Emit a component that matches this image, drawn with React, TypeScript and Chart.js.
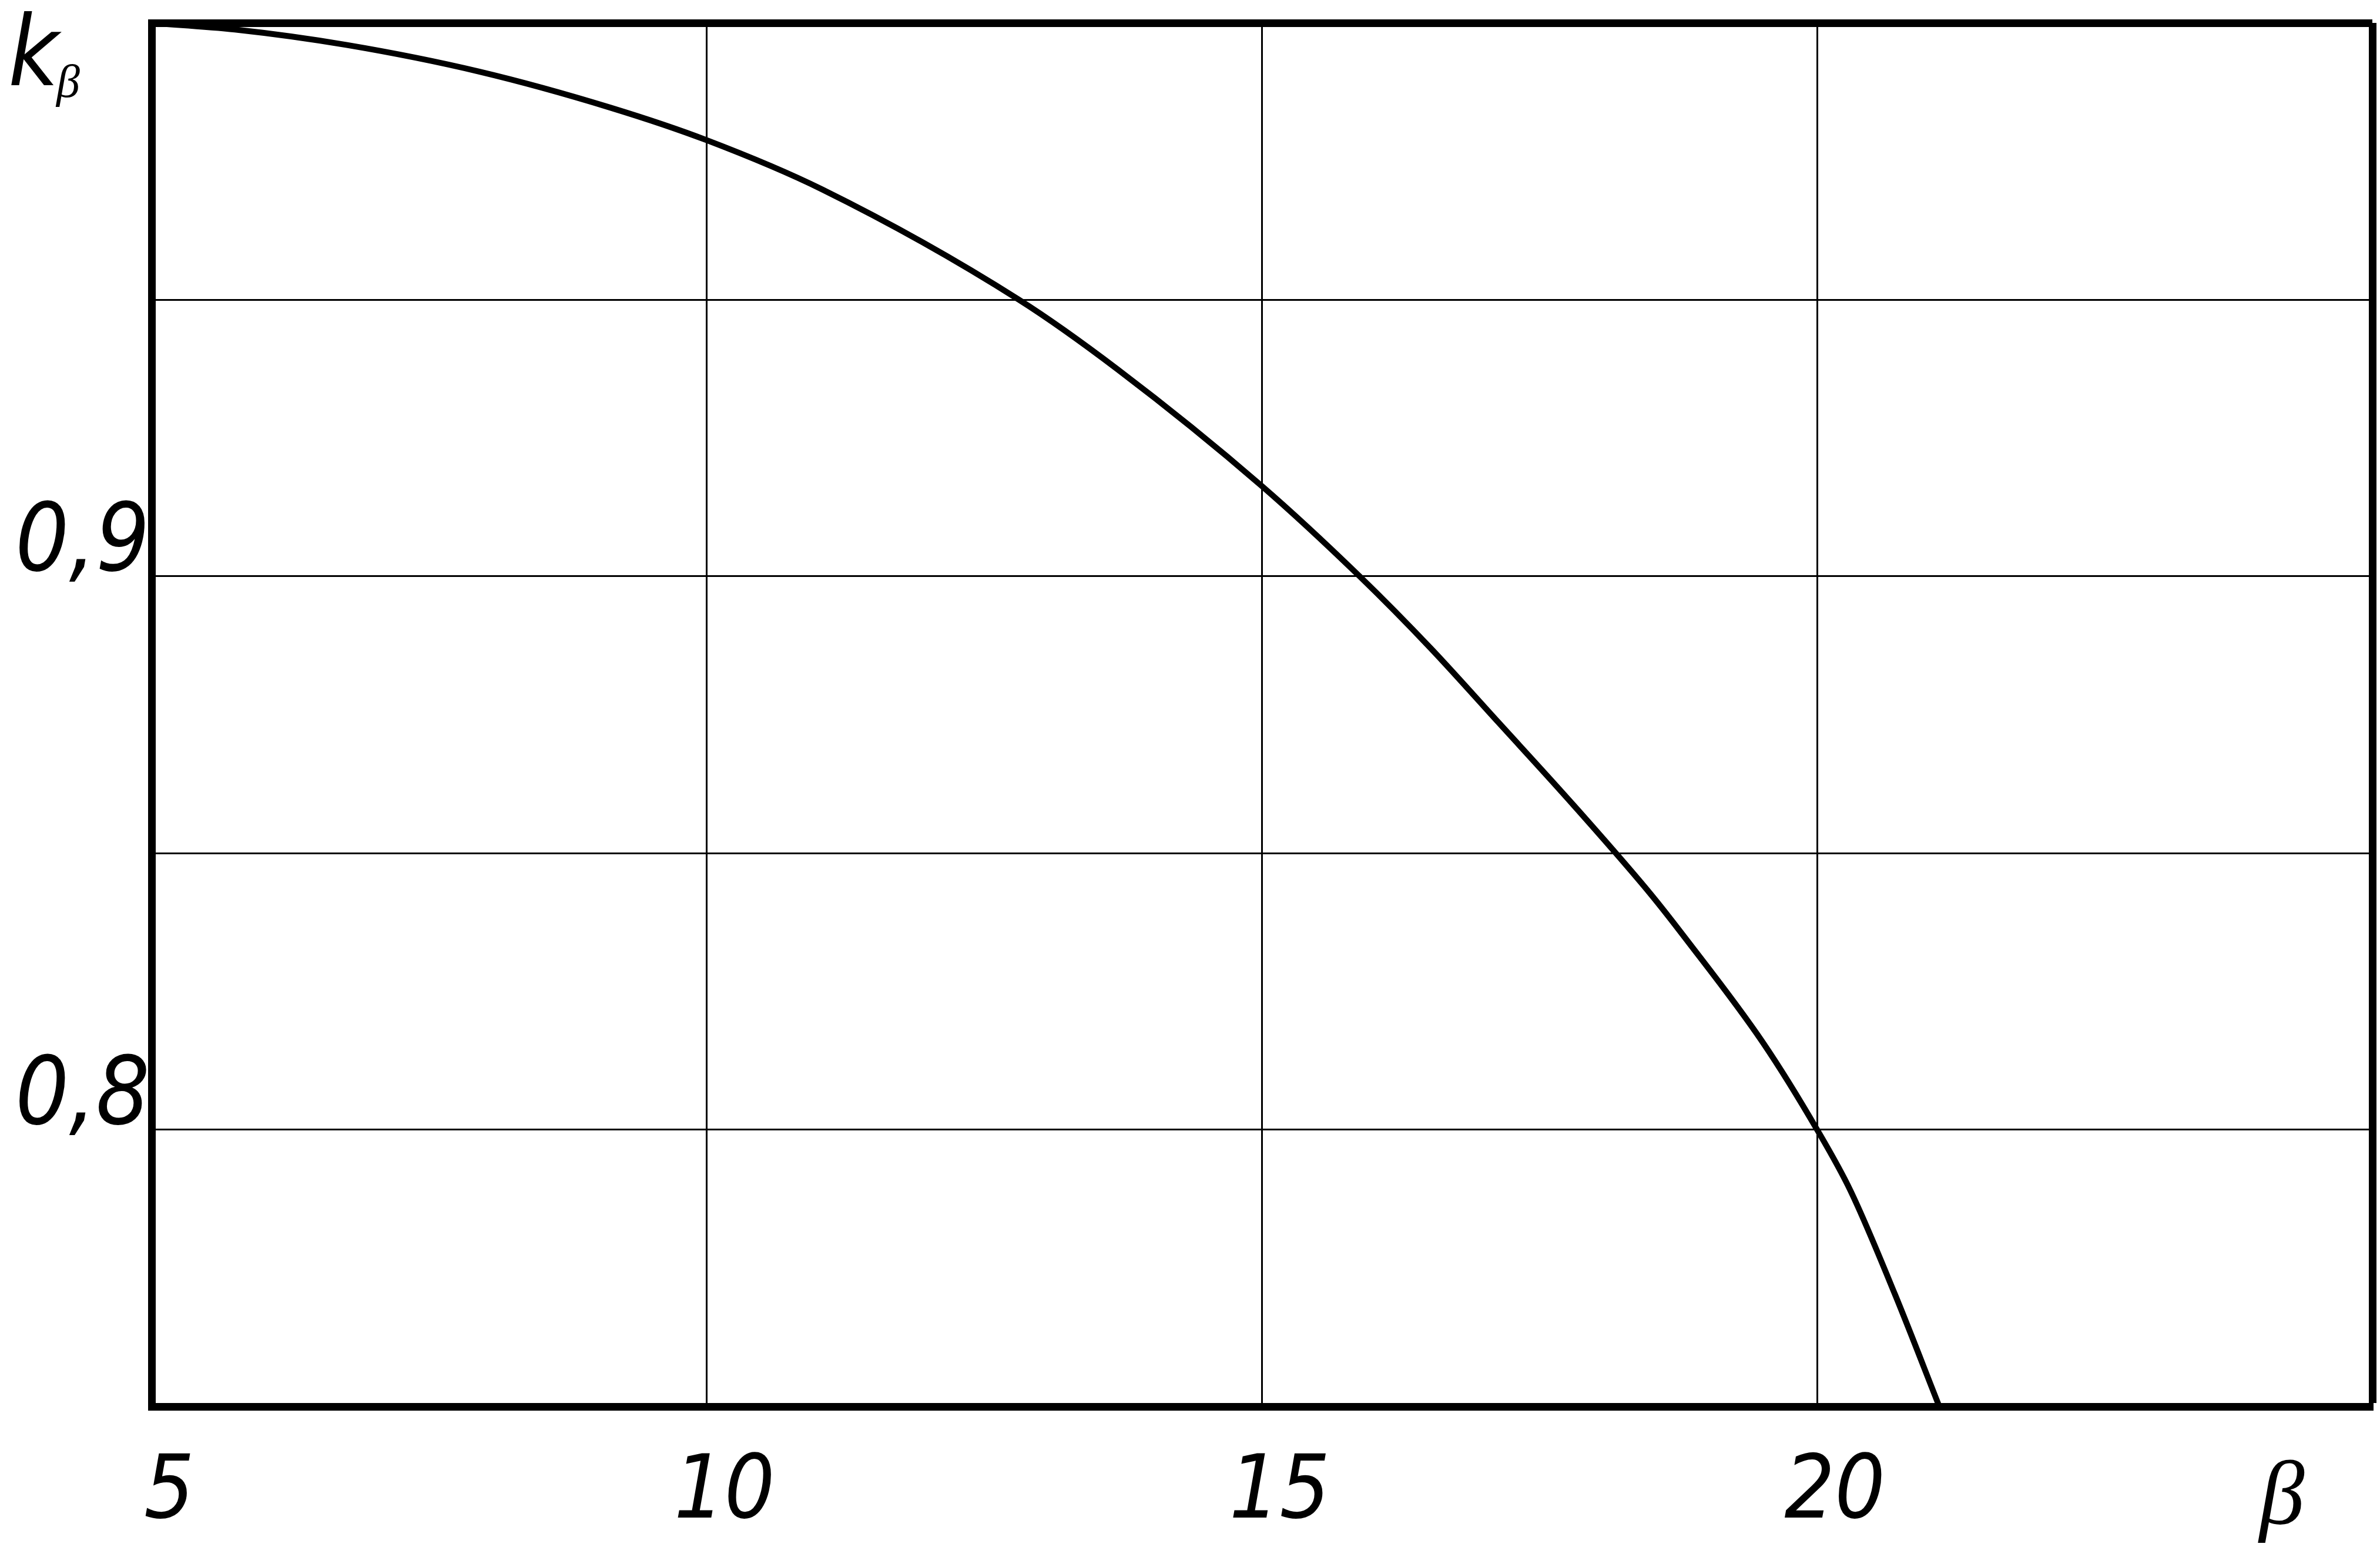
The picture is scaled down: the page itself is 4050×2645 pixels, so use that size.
import React, { useEffect, useRef } from "react";
import { Chart, registerables } from "chart.js";

Chart.register(...registerables);

// β values (x) and k_β values (y)
const betaValues = [5, 5.75, 6.76, 7.95, 9.13, 10, 11.04, 12.81, 13.7, 15, 15.88, 16.52, 17.13, 17.8, 18.5, 18.81, 19.51, 20, 20.3, 20.7, 21.1];
const kValues = [1.0, 0.9988, 0.996, 0.9912, 0.9847, 0.9788, 0.9699, 0.95, 0.9374, 0.9163, 0.9, 0.887, 0.8736, 0.8588, 0.8426, 0.8347, 0.8158, 0.8, 0.789, 0.7703, 0.75];

// axis ticks
const xTickValues = [5, 10, 15, 20];
const xTickLabels = ["5", "10", "15", "20"];
const yTickValues = [0.8, 0.9];
const yTickLabels = ["0,8", "0,9"];

const X_MIN = 5, X_MAX = 25, X_STEP = 5;
const Y_MIN = 0.75, Y_MAX = 1.0, Y_STEP = 0.05;

const yAxisTitle = "k";
const yAxisSub = "β";
const xAxisTitle = "β";

const TICK_FONT = "'DejaVu Sans Condensed', 'Liberation Sans Narrow', 'DejaVu Sans', sans-serif";
const SERIF_FONT = "'Liberation Serif', 'DejaVu Serif', serif";

function labelFor(v: number, values: number[], labels: string[]) {
  for (let i = 0; i < values.length; i++) {
    if (Math.abs(values[i] - v) < 1e-6) return labels[i];
  }
  return "";
}

const axisTitlesPlugin = {
  id: "axisTitles",
  afterDraw(chart: any) {
    const ctx = chart.ctx;
    const area = chart.chartArea;
    ctx.save();
    ctx.fillStyle = "#000";
    ctx.textBaseline = "alphabetic";
    ctx.textAlign = "left";
    // k_β
    ctx.font = `italic 300 165px ${TICK_FONT}`;
    ctx.fillText(yAxisTitle, 14, 145);
    const kw = ctx.measureText(yAxisTitle).width;
    ctx.font = `italic 80px ${SERIF_FONT}`;
    ctx.fillText(yAxisSub, 14 + kw - 4, 165);
    // β at end of x axis
    ctx.font = `italic 154px ${SERIF_FONT}`;
    ctx.textAlign = "center";
    ctx.fillText(xAxisTitle, area.right - 154, area.bottom + 199);
    ctx.restore();
  },
};

export default function App() {
  const ref = useRef<HTMLCanvasElement>(null);
  useEffect(() => {
    if (!ref.current) return;
    const chart = new Chart(ref.current, {
      type: "line",
      data: {
        datasets: [
          {
            data: betaValues.map((b, i) => ({ x: b, y: kValues[i] })),
            borderColor: "#000",
            borderWidth: 10,
            pointRadius: 0,
            fill: false,
            cubicInterpolationMode: "monotone",
            borderCapStyle: "round",
            borderJoinStyle: "round",
          },
        ],
      },
      options: {
        animation: false,
        responsive: false,
        maintainAspectRatio: false,
        layout: { padding: { left: 26, top: 39, right: 13, bottom: 0 } },
        plugins: { legend: { display: false }, tooltip: { enabled: false }, title: { display: false } },
        scales: {
          x: {
            type: "linear",
            min: X_MIN,
            max: X_MAX,
            afterFit: (s: any) => {
              s.height = 251;
              s.paddingLeft = 0;
              s.paddingRight = 0;
            },
            ticks: {
              stepSize: X_STEP,
              autoSkip: false,
              maxRotation: 0,
              color: "#000",
              padding: 60,
              labelOffset: 30,
              font: { family: TICK_FONT, size: 150, style: "italic", weight: 300 },
              callback: (v: any) => labelFor(Number(v), xTickValues, xTickLabels),
            },
            grid: {
              color: "#000",
              drawTicks: false,
              lineWidth: (c: any) => (c.tick && Math.abs(c.tick.value - X_MAX) < 1e-6 ? 13 : 3),
            },
            border: { display: true, color: "#000", width: 13 },
          },
          y: {
            type: "linear",
            min: Y_MIN,
            max: Y_MAX,
            afterFit: (s: any) => {
              s.width = 232;
              s.paddingTop = 0;
              s.paddingBottom = 0;
            },
            ticks: {
              stepSize: Y_STEP,
              autoSkip: false,
              color: "#000",
              crossAlign: "far",
              labelOffset: -52,
              font: { family: TICK_FONT, size: 160, style: "italic", weight: 300 },
              callback: (v: any) => labelFor(Number(v), yTickValues, yTickLabels),
            },
            grid: {
              color: "#000",
              drawTicks: false,
              lineWidth: (c: any) => (c.tick && Math.abs(c.tick.value - Y_MAX) < 1e-6 ? 13 : 3),
            },
            border: { display: true, color: "#000", width: 13 },
          },
        },
      },
      plugins: [axisTitlesPlugin],
    } as any);
    return () => chart.destroy();
  }, []);
  return (
    <div style={{ position: "fixed", left: 0, top: 0, width: 4050, height: 2645, background: "#fff" }}>
      <canvas ref={ref} width={4050} height={2645} style={{ display: "block", width: 4050, height: 2645 }} />
    </div>
  );
}
